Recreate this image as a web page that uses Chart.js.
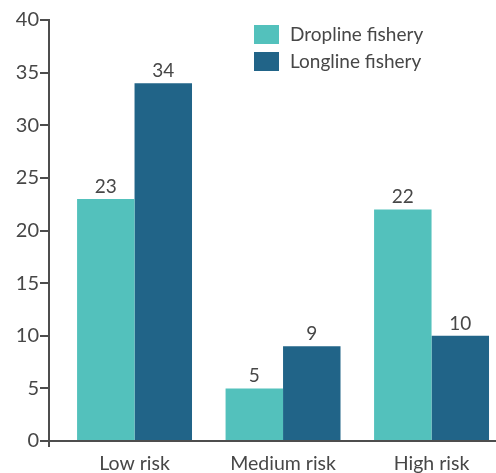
<!DOCTYPE html>
<html>
<head>
<meta charset="utf-8">
<script src="https://cdn.jsdelivr.net/npm/chart.js@4/dist/chart.umd.min.js"></script>
<style>
  html, body { margin: 0; padding: 0; background: #ffffff; }
  #wrap { width: 496px; height: 473px; position: relative; }
</style>
</head>
<body>
<div id="wrap"><canvas id="c" width="496" height="473"></canvas></div>
<script>
const categories = ['Low risk', 'Medium risk', 'High risk'];
const seriesNames = ['Dropline fishery', 'Longline fishery'];
const droplineValues = [23, 5, 22];
const longlineValues = [34, 9, 10];
const yTickValues = [0, 5, 10, 15, 20, 25, 30, 35, 40];

const colors = ['#53c1bc', '#216488'];
const textColor = '#474747';
const axisColor = '#4d4d4d';
const fontFamily = 'Lato, "Open Sans", sans-serif';

function toPoints(values) {
  return values.map((v, i) => ({ x: i, y: v }));
}

const valueLabels = {
  id: 'valueLabels',
  afterDatasetsDraw(chart) {
    const ctx = chart.ctx;
    ctx.save();
    ctx.font = '19px ' + fontFamily;
    ctx.fillStyle = textColor;
    ctx.textAlign = 'center';
    ctx.textBaseline = 'alphabetic';
    chart.data.datasets.forEach((ds, di) => {
      chart.getDatasetMeta(di).data.forEach((bar, j) => {
        ctx.fillText(String(ds.data[j].y), bar.x, bar.y - 6);
      });
    });
    ctx.restore();
  }
};

const customLegend = {
  id: 'customLegend',
  afterDraw(chart) {
    const ctx = chart.ctx;
    ctx.save();
    ctx.font = '19px ' + fontFamily;
    ctx.textAlign = 'left';
    ctx.textBaseline = 'middle';
    chart.data.datasets.forEach((ds, i) => {
      const y = 25 + i * 27;
      ctx.fillStyle = ds.backgroundColor;
      ctx.fillRect(254, y, 25, 19);
      ctx.fillStyle = textColor;
      ctx.fillText(ds.label, 290, y + 10);
    });
    ctx.restore();
  }
};

const axisExtension = {
  id: 'axisExtension',
  afterDraw(chart) {
    const ctx = chart.ctx;
    const a = chart.chartArea;
    ctx.save();
    ctx.strokeStyle = axisColor;
    ctx.lineWidth = 2;
    ctx.beginPath();
    ctx.moveTo(a.left, a.bottom);
    ctx.lineTo(a.left, a.bottom + 6);
    ctx.stroke();
    ctx.restore();
  }
};

new Chart(document.getElementById('c'), {
  type: 'bar',
  data: {
    datasets: [
      { label: seriesNames[0], data: toPoints(droplineValues), backgroundColor: colors[0] },
      { label: seriesNames[1], data: toPoints(longlineValues), backgroundColor: colors[1] }
    ]
  },
  plugins: [valueLabels, customLegend, axisExtension],
  options: {
    responsive: false,
    animation: false,
    layout: { padding: { top: 20, left: 0, right: 0, bottom: 0 } },
    categoryPercentage: 0.774,
    barPercentage: 1.0,
    plugins: {
      legend: { display: false },
      tooltip: { enabled: false }
    },
    scales: {
      x: {
        type: 'linear',
        offset: false,
        min: -0.576,
        max: 2.434,
        afterBuildTicks: (s) => { s.ticks = categories.map((_, i) => ({ value: i })); },
        afterFit: (s) => { s.height = 32; },
        grid: { display: false, drawTicks: false, tickLength: 0, offset: false },
        border: { display: true, color: axisColor, width: 2 },
        ticks: {
          padding: 11,
          maxRotation: 0,
          autoSkip: false,
          color: textColor,
          font: { family: fontFamily, size: 19.5 },
          callback: (v) => categories[v]
        }
      },
      y: {
        min: yTickValues[0],
        max: yTickValues[yTickValues.length - 1],
        afterFit: (s) => { s.width = 49; },
        afterBuildTicks: (s) => { s.ticks = yTickValues.map(v => ({ value: v })); },
        grid: { display: true, drawOnChartArea: false, drawTicks: true, tickLength: 9, color: axisColor, lineWidth: 2 },
        border: { display: true, color: axisColor, width: 2 },
        ticks: {
          padding: 1,
          color: textColor,
          font: { family: fontFamily, size: 20 }
        }
      }
    }
  }
});
</script>
</body>
</html>
